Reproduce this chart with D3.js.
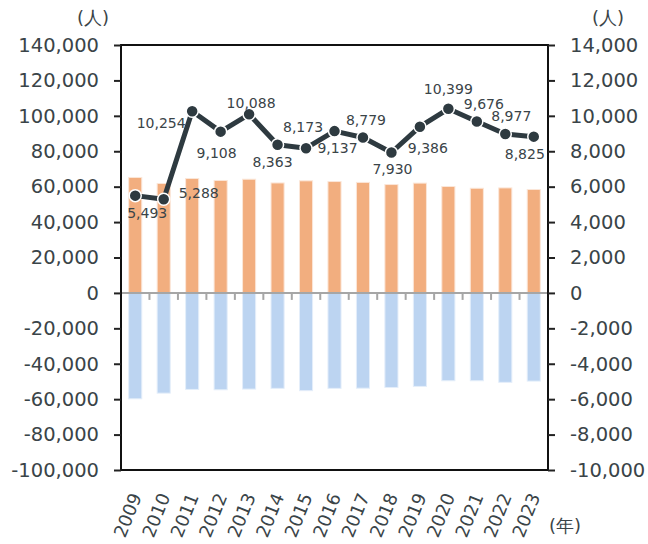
<!DOCTYPE html>
<html>
<head>
<meta charset="utf-8">
<script src="https://cdn.jsdelivr.net/npm/d3@7"></script>
<style>
  body { margin: 0; background: #fff; }
  text { font-family: "DejaVu Sans", Verdana, sans-serif; fill: #3a4448; }
</style>
</head>
<body>
<div id="chart"></div>
<script>
// values
const years = ["2009", "2010", "2011", "2012", "2013", "2014", "2015", "2016",
               "2017", "2018", "2019", "2020", "2021", "2022", "2023"];
const inflow = [65200, 61800, 64600, 63500, 64200, 62100, 63300, 62900,
                62400, 61200, 62000, 60100, 59100, 59300, 58400];
const outflow = [-59800, -56600, -54500, -54700, -54300, -53900, -55200, -53900,
                 -53800, -53400, -52800, -49600, -49600, -50500, -49800];
const netValues = [5493, 5288, 10254, 9108, 10088, 8363, 8173, 9137,
                   8779, 7930, 9386, 10399, 9676, 8977, 8825];
const leftTicks = [-100000, -80000, -60000, -40000, -20000, 0, 20000, 40000,
                   60000, 80000, 100000, 120000, 140000];
const rightTicks = [-10000, -8000, -6000, -4000, -2000, 0, 2000, 4000,
                    6000, 8000, 10000, 12000, 14000];

// label placement (centre offset from its point, px)
const labelDx = [12, 35, -31, -4, 2, -5, -3, 3, 3, 1, 8, 0, 7, 6, -9];
const labelDy = [17, -6, 12, 21, -11, 17, -21, 17, -17, 17, 21, -20, -18, -18, 17];

const width = 648, height = 544;
const plot = { left: 121, right: 548, top: 45, bottom: 470 };

const svg = d3.select("#chart").append("svg")
    .attr("width", width)
    .attr("height", height);

const x = d3.scaleBand().domain(years).range([plot.left, plot.right]).paddingInner(0).paddingOuter(0);
const yL = d3.scaleLinear().domain([-100000, 140000]).range([plot.bottom, plot.top]);
const yR = d3.scaleLinear().domain([-10000, 14000]).range([plot.bottom, plot.top]);

// plain hyphen for negatives, like the original
const fmt = d => d3.format(",")(d).replace("\u2212", "-");
const barW = x.bandwidth() * 0.46;

// bars
svg.append("g").selectAll("rect")
    .data(years)
    .enter().append("rect")
    .attr("x", d => x(d) + (x.bandwidth() - barW) / 2)
    .attr("y", (d, i) => yL(inflow[i]))
    .attr("width", barW)
    .attr("height", (d, i) => yL(0) - yL(inflow[i]))
    .attr("fill", "#f2ae7f")
    .attr("stroke", "#fbe6d8")
    .attr("stroke-width", 1);

svg.append("g").selectAll("rect")
    .data(years)
    .enter().append("rect")
    .attr("x", d => x(d) + (x.bandwidth() - barW) / 2)
    .attr("y", yL(0))
    .attr("width", barW)
    .attr("height", (d, i) => yL(outflow[i]) - yL(0))
    .attr("fill", "#bcd4f1")
    .attr("stroke", "#e4eefa")
    .attr("stroke-width", 1);

// category axis on the zero line
const zeroAxis = svg.append("g")
    .attr("transform", "translate(0," + yL(0) + ")");
zeroAxis.append("line")
    .attr("x1", plot.left).attr("x2", plot.right)
    .attr("stroke", "#a6a6a6").attr("stroke-width", 2);
zeroAxis.selectAll("line.tk")
    .data(years.concat(["end"]))
    .enter().append("line")
    .attr("class", "tk")
    .attr("x1", (d, i) => plot.left + i * x.bandwidth())
    .attr("x2", (d, i) => plot.left + i * x.bandwidth())
    .attr("y1", 0).attr("y2", 7)
    .attr("stroke", "#a6a6a6").attr("stroke-width", 2);

// frame
svg.append("rect")
    .attr("x", plot.left).attr("y", plot.top)
    .attr("width", plot.right - plot.left)
    .attr("height", plot.bottom - plot.top)
    .attr("fill", "none")
    .attr("stroke", "#111")
    .attr("stroke-width", 2);

// left axis
const leftAxis = svg.append("g")
    .attr("transform", "translate(" + plot.left + ",0)")
    .call(d3.axisLeft(yL).tickValues(leftTicks).tickFormat(fmt).tickSize(7).tickPadding(15));
leftAxis.select(".domain").remove();
leftAxis.selectAll("line").attr("stroke", "#222").attr("stroke-width", 2);
leftAxis.selectAll("text").style("font-size", "19.5px").attr("fill", "#3a4448");

// right axis
const rightAxis = svg.append("g")
    .attr("transform", "translate(" + plot.right + ",0)")
    .call(d3.axisRight(yR).tickValues(rightTicks).tickFormat(fmt).tickSize(7).tickPadding(15));
rightAxis.select(".domain").remove();
rightAxis.selectAll("line").attr("stroke", "#222").attr("stroke-width", 2);
rightAxis.selectAll("text").style("font-size", "19.5px").attr("fill", "#3a4448");

// year labels
svg.append("g").selectAll("text")
    .data(years)
    .enter().append("text")
    .attr("transform", d => "translate(" + (x(d) + x.bandwidth() / 2 + 1) + "," + (plot.bottom + 24) + ") rotate(-68)")
    .attr("text-anchor", "end")
    .attr("dy", "0.35em")
    .style("font-size", "18px")
    .text(d => d);

// unit labels
svg.append("text").attr("x", 93).attr("y", 24).attr("text-anchor", "middle")
    .style("font-size", "18px").text("(人)");
svg.append("text").attr("x", 608).attr("y", 24).attr("text-anchor", "middle")
    .style("font-size", "18px").text("(人)");
svg.append("text").attr("x", 565).attr("y", 532).attr("text-anchor", "middle")
    .style("font-size", "18px").text("(年)");

// net line
const line = d3.line()
    .x((d, i) => x(years[i]) + x.bandwidth() / 2)
    .y(d => yR(d));

svg.append("path")
    .datum(netValues)
    .attr("d", line)
    .attr("fill", "none")
    .attr("stroke", "#2e3a40")
    .attr("stroke-width", 5)
    .attr("stroke-linejoin", "round");

svg.append("g").selectAll("circle")
    .data(netValues)
    .enter().append("circle")
    .attr("cx", (d, i) => x(years[i]) + x.bandwidth() / 2)
    .attr("cy", d => yR(d))
    .attr("r", 6)
    .attr("fill", "#2e3a40")
    .attr("stroke", "#fff")
    .attr("stroke-width", 1.5);

// value labels
svg.append("g").selectAll("text")
    .data(netValues)
    .enter().append("text")
    .attr("x", (d, i) => x(years[i]) + x.bandwidth() / 2 + labelDx[i])
    .attr("y", (d, i) => yR(d) + labelDy[i])
    .attr("dy", 5)
    .attr("text-anchor", "middle")
    .style("font-size", "14px")
    .text(d => fmt(d));
</script>
</body>
</html>
